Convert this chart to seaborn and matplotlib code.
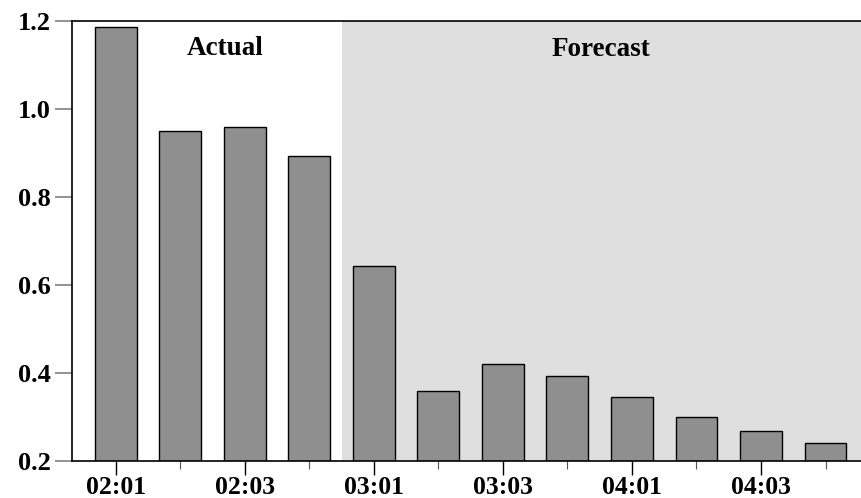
import matplotlib
matplotlib.use('Agg')
import matplotlib.pyplot as plt
import seaborn as sns
import pandas as pd

quarters = ['02:01', '02:02', '02:03', '02:04',
            '03:01', '03:02', '03:03', '03:04',
            '04:01', '04:02', '04:03', '04:04']
values = [1.187, 0.951, 0.959, 0.893,
          0.644, 0.359, 0.421, 0.393,
          0.345, 0.299, 0.269, 0.241]
major_labels = ['02:01', '02:03', '03:01', '03:03', '04:01', '04:03']
n_actual = 4

df = pd.DataFrame({'quarter': quarters, 'value': values})

sns.set_style('ticks')
plt.rcParams['font.family'] = ['Liberation Serif', 'DejaVu Serif']
plt.rcParams['font.weight'] = 'bold'
plt.rcParams['text.color'] = 'black'
plt.rcParams['xtick.labelcolor'] = 'black'
plt.rcParams['ytick.labelcolor'] = 'black'

fig = plt.figure(figsize=(8.61, 4.98), dpi=100)
ax = fig.add_axes([72 / 861, 1 - 461 / 498, 1 - 72 / 861, (461 - 21) / 498])

sns.barplot(x='quarter', y='value', data=df, ax=ax, color='#8f8f8f',
            saturation=1, width=0.65, edgecolor='black', linewidth=1, zorder=2)

x_min, x_max = -0.68, 11.55
ax.axvspan(n_actual - 0.5, x_max, color='#dfdfdf', zorder=0.5, lw=0)
ax.set_xlim(x_min, x_max)
ax.set_ylim(0.2, 1.2)

ax.set_yticks([0.2, 0.4, 0.6, 0.8, 1.0, 1.2])
ax.set_yticklabels(['0.2', '0.4', '0.6', '0.8', '1.0', '1.2'], fontsize=19, fontweight='bold')
major_pos = [quarters.index(q) for q in major_labels]
minor_pos = [i for i in range(len(quarters)) if i not in major_pos]
ax.set_xticks(major_pos)
ax.set_xticklabels(major_labels, fontsize=18.5, fontweight='bold')
ax.set_xticks(minor_pos, minor=True)

ax.tick_params(axis='y', length=12, width=1.2, color='#808080', pad=3)
ax.tick_params(axis='x', which='major', length=10, width=1, color='black', pad=1)
ax.tick_params(axis='x', which='minor', length=6, width=0.8, color='#555555')

for s in ['left', 'bottom', 'top']:
    ax.spines[s].set_visible(True)
    ax.spines[s].set_color('black')
    ax.spines[s].set_linewidth(1.2)
ax.spines['right'].set_visible(False)

ax.set_xlabel('')
ax.set_ylabel('')

ax.text(1.69, 1.137, 'Actual', ha='center', va='center', fontsize=19.5, fontweight='bold')
ax.text((n_actual - 0.5 + x_max) / 2, 1.135, 'Forecast', ha='center', va='center',
        fontsize=19.5, fontweight='bold')

fig.savefig('out.png', dpi=100)
